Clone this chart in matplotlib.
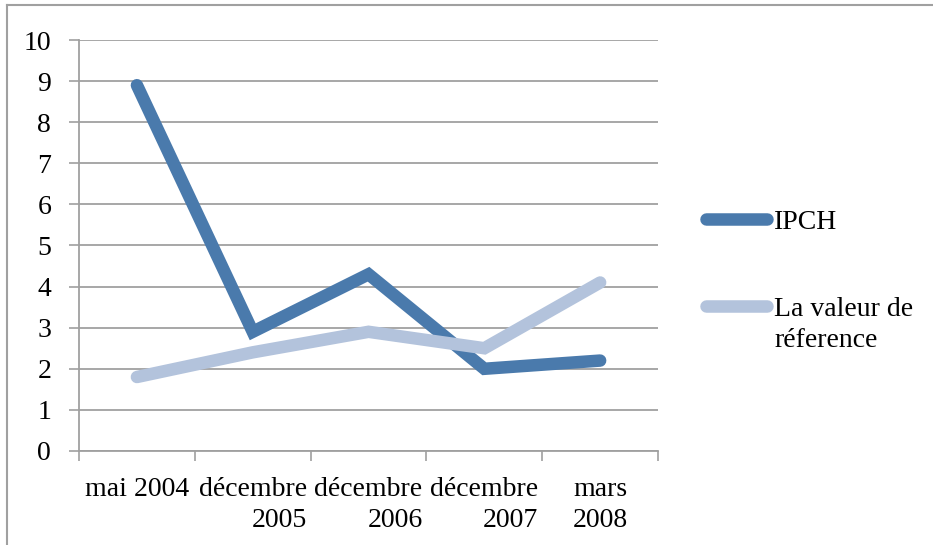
import numpy as np
import matplotlib
matplotlib.use('Agg')
from matplotlib import pyplot as plt
from matplotlib.lines import Line2D

categories = ['mai 2004', 'décembre\n2005', 'décembre\n2006', 'décembre\n2007', 'mars\n2008']
ipch = [8.9, 2.9, 4.3, 2.0, 2.2]
reference = [1.8, 2.4, 2.9, 2.5, 4.1]
series_labels = ['IPCH', 'La valeur de', 'réference']

plt.rcParams['font.family'] = ['Liberation Serif', 'DejaVu Serif']

grey = '#A0A0A0'
fig = plt.figure(figsize=[9.33, 5.45], dpi=100)
ax = fig.add_axes([0.0847, 0.1725, 0.6206, 0.7541])

x = np.arange(len(categories))
ax.plot(x, ipch, color='#4A7AAC', lw=9, solid_capstyle='round', solid_joinstyle='miter', label=series_labels[0], zorder=2)
ax.plot(x, reference, color='#B3C3DC', lw=9, solid_capstyle='round', solid_joinstyle='miter', label=series_labels[1], zorder=3)

ax.set_xlim(-0.5, len(categories) - 0.5)
ax.set_ylim(0, 10)
ax.set_yticks(range(0, 11))
ax.set_xticks(x)
ax.set_xticklabels(categories, fontsize=20, linespacing=1.3, ha='center', multialignment='right')
ax.set_xticks(np.arange(-0.5, len(categories)), minor=True)
ax.tick_params(axis='x', which='major', length=0, pad=19)
ax.tick_params(axis='x', which='minor', length=7, color=grey, width=1.2)
ax.tick_params(axis='y', length=7, color=grey, width=1.2, labelsize=20, pad=13)
ax.grid(axis='y', color=grey, lw=1.3)
ax.set_axisbelow(True)
for s in ['top', 'right']:
    ax.spines[s].set_visible(False)
for s in ['left', 'bottom']:
    ax.spines[s].set_color(grey)
    ax.spines[s].set_linewidth(1.3)

leg = ax.legend(loc='upper left', bbox_to_anchor=(1.04, 0.648), frameon=False, fontsize=20,
                handlelength=2.2, handletextpad=0.25, labelspacing=2.2)

# second line of the reference label sits under its first line, handle stays on the first line
fig.canvas.draw()
bb = leg.get_texts()[1].get_window_extent()
fig.text(bb.x0 / 933, (bb.y0 - 31) / 545, series_labels[2], fontsize=20, va='bottom', ha='left')

# outer chart frame (only top and left edges visible)
fig.add_artist(Line2D([7 / 933, 1], [1 - 5 / 545, 1 - 5 / 545], color=grey, lw=1.5, transform=fig.transFigure))
fig.add_artist(Line2D([7 / 933, 7 / 933], [0, 1 - 5 / 545], color=grey, lw=1.5, transform=fig.transFigure))

plt.savefig('out.png', dpi=100)
plt.close()
